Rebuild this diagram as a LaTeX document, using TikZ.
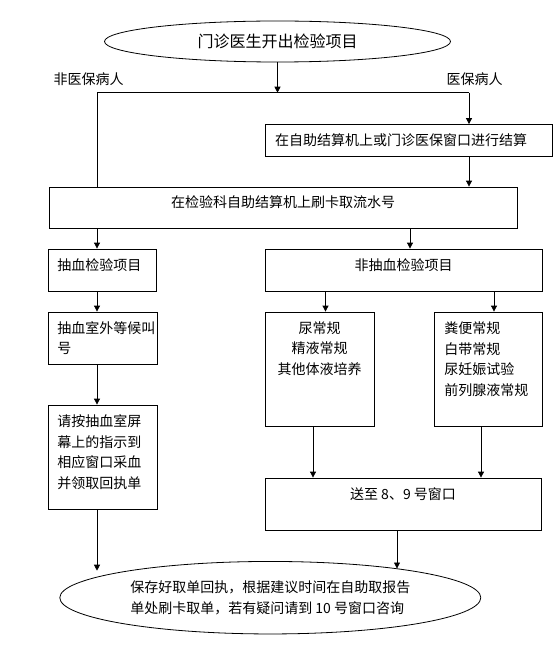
\documentclass[tikz,border=0pt]{standalone}
\usepackage{fontspec}
\setmainfont{Noto Sans CJK SC}
\usetikzlibrary{shapes.geometric, arrows.meta, positioning}

\newcommand{\cinq}{\fontsize{14pt}{20.5pt}\selectfont}

\begin{document}
\begin{tikzpicture}[x=1pt, y=-1pt, line width=0.8pt,
    >={Triangle[length=6pt, width=6pt]},
    boite/.style={draw, rectangle, inner sep=0pt, font=\cinq},
    bulle/.style={draw, ellipse, inner sep=0pt, font=\cinq},
    texte/.style={inner sep=0pt, font=\cinq}]
    \path[use as bounding box, fill=white] (0, 0) rectangle (554, 671);

    % Depart
    \node[bulle, minimum width=346pt, minimum height=41pt,
      font=\fontsize{16pt}{19pt}\selectfont] (debut) at (277.5, 41.5)
    {门诊医生开出检验项目};

    % Embranchement
    \coordinate (carrefour) at (277.5, 92.7);
    \coordinate (gauche) at (97, 92.7);
    \coordinate (droite) at (469, 92.7);
    \node[texte] (nonassure) at (88.5, 79) {非医保病人};
    \node[texte] (assure) at (474.5, 79) {医保病人};

    % Reglement
    \node[boite, minimum width=287pt, minimum height=32pt, text width=267pt,
      align=left] (reglement) at (408.5, 140.5)
    {在自助结算机上或门诊医保窗口进行结算};

    % Numero
    \node[boite, minimum width=468pt, minimum height=41pt] (numero)
    at (283, 207.5) {};
    \node[texte] (numerotxt) at (283, 202) {在检验科自助结算机上刷卡取流水号};

    % Prise de sang
    \node[boite, minimum width=108pt, minimum height=42pt] (prise)
    at (102, 270) {};
    \node[texte, anchor=west] (prisetxt) at (57, 265) {抽血检验项目};
    \node[boite, minimum width=108.5pt, minimum height=52pt] (attente)
    at (103, 338) {};
    \node[texte, anchor=west, align=left] (attentetxt) at (57, 338)
    {抽血室外等候叫\\号};
    \node[boite, minimum width=108.5pt, minimum height=104pt] (prelevement)
    at (103, 457) {};
    \node[texte, anchor=west, align=left] (prelevementtxt) at (57, 452)
    {请按抽血室屏\\幕上的指示到\\相应窗口采血\\并领取回执单};

    % Autres examens
    \node[boite, minimum width=277pt, minimum height=42pt] (autre)
    at (403.5, 270) {};
    \node[texte] (autretxt) at (403.5, 265) {非抽血检验项目};
    \node[boite, minimum width=109pt, minimum height=114pt] (urine)
    at (319.5, 369) {};
    \node[texte, align=center] (urinetxt) at (319.5, 348.5)
    {尿常规\\精液常规\\其他体液培养};
    \node[boite, minimum width=108pt, minimum height=114pt] (selles)
    at (488, 369) {};
    \node[texte, anchor=west, align=left] (sellestxt) at (444, 359)
    {粪便常规\\白带常规\\尿妊娠试验\\前列腺液常规};
    \node[boite, minimum width=276pt, minimum height=52pt] (envoi)
    at (403, 504) {};
    \node[texte] (envoitxt) at (403, 494) {送至 8、9 号窗口};

    % Fin
    \node[bulle, minimum width=421pt, minimum height=72.5pt, align=left]
    (fin) at (270.3, 597.7)
    {保存好取单回执，根据建议时间在自助取报告\\单处刷卡取单，若有疑问请到 10 号窗口咨询};
    \coordinate (finG) at (97, 570.7);
    \coordinate (finD) at (397, 568.5);

    % Fleches
    \draw[->] (debut) -- (carrefour);
    \draw (gauche) -- (droite);
    \draw (gauche) -- (gauche |- numero.north);
    \draw[->] (droite) -- (droite |- reglement.north);
    \draw[->] (droite |- reglement.south) -- (droite |- numero.north);
    \foreach \x/\haut/\bas in {97/numero/prise, 97/prise/attente,
      97/attente/prelevement, 410/numero/autre, 325.5/autre/urine,
      494/autre/selles, 313/urine/envoi, 481/selles/envoi} {
      \coordinate (col) at (\x, 0);
      \draw[->] (col |- \haut.south) -- (col |- \bas.north);
    }
    \draw[->] (finG |- prelevement.south) -- (finG);
    \draw[->] (finD |- envoi.south) -- (finD);
  \end{tikzpicture}
\end{document}
